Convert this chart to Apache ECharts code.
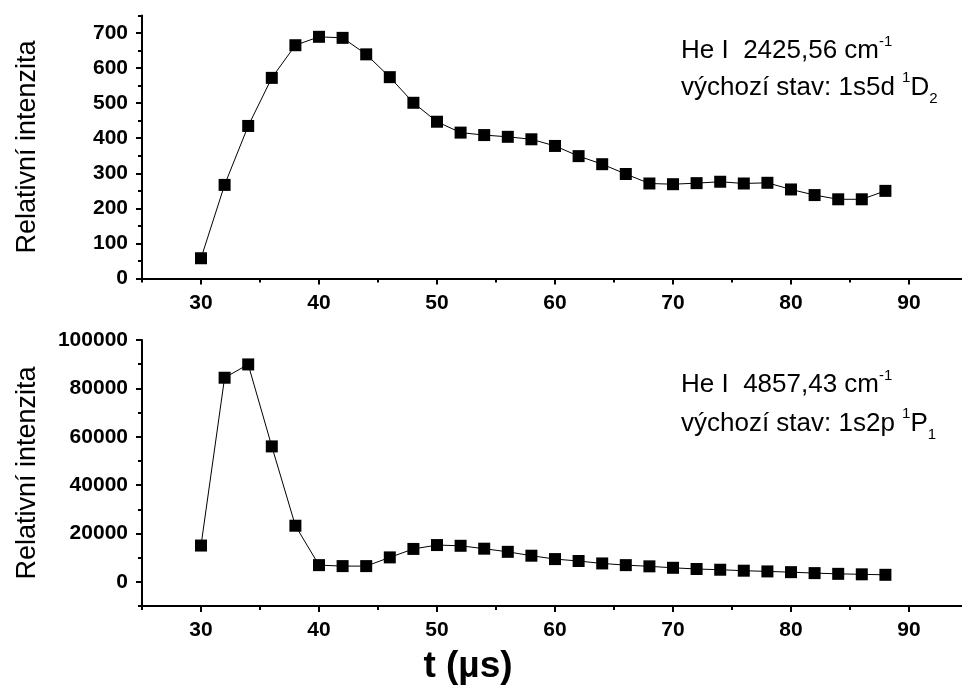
<!DOCTYPE html>
<html>
<head>
<meta charset="utf-8">
<script src="https://cdn.jsdelivr.net/npm/echarts@6/dist/echarts.min.js"></script>
<style>html,body{margin:0;padding:0;background:#fff}#c{width:962px;height:689px}</style>
</head>
<body>
<div id="c"></div>
<script>
const times = [30,32,34,36,38,40,42,44,46,48,50,52,54,56,58,60,62,64,66,68,70,72,74,76,78,80,82,84,86,88];
const intensity1D2 = [58,267,435,572,665,689,686,639,574,501,447,416,409,404,397,378,349,326,298,271,269,272,276,271,273,254,238,226,226,250];
const intensity1P1 = [15000,84400,89900,56000,23200,6900,6500,6500,10100,13600,15200,14900,13700,12400,10800,9400,8600,7600,6900,6400,5800,5300,5000,4600,4300,4000,3600,3300,3100,2900];
const xMajorTicks = [30,40,50,60,70,80,90];
const xMinorTicks = [25,35,45,55,65,75,85,95];
const yTopMajor = [0,100,200,300,400,500,600,700];
const yTopMinor = [50,150,250,350,450,550,650,750];
const yBotMajor = [0,20000,40000,60000,80000,100000];
const yBotMinor = [-10000,10000,30000,50000,70000,90000];
const yTitle = 'Relativní intenzita';
const xTitle = 't (\u00B5s)';

const FONT = 'Liberation Sans, Arial, sans-serif';
const black = '#000';

function majorAxis(gridIndex, min, max, ticks, extra) {
  return Object.assign({
    type: 'value', gridIndex, min, max,
    axisLine: {show: true, onZero: false, lineStyle: {color: black, width: 2}},
    axisTick: {show: true, customValues: ticks, length: 6, inside: false, lineStyle: {color: black, width: 2}},
    axisLabel: {show: true, customValues: ticks, color: black, fontFamily: FONT, fontSize: 21, fontWeight: 'bold', margin: 14,
                formatter: v => String(v)},
    splitLine: {show: false}
  }, extra || {});
}
function minorAxis(gridIndex, min, max, ticks, extra) {
  return Object.assign({
    type: 'value', gridIndex, min, max,
    axisLine: {show: false, onZero: false},
    axisTick: {show: true, customValues: ticks, length: 4, lineStyle: {color: black, width: 2}},
    axisLabel: {show: false},
    splitLine: {show: false}
  }, extra || {});
}

const chart = echarts.init(document.getElementById('c'), null, {renderer: 'canvas'});
const ynameStyle = {color: black, fontFamily: FONT, fontSize: 27};
chart.setOption({
  backgroundColor: '#fff',
  animation: false,
  grid: [
    {left: 142, top: 15.4, width: 826, height: 263.2, containLabel: false, outerBoundsMode: 'none'},
    {left: 142, top: 340, width: 826, height: 266, containLabel: false, outerBoundsMode: 'none'}
  ],
  xAxis: [
    majorAxis(0, 25, 95, xMajorTicks, {position: 'bottom'}),
    minorAxis(0, 25, 95, xMinorTicks, {position: 'bottom'}),
    majorAxis(1, 25, 95, xMajorTicks, {position: 'bottom'}),
    minorAxis(1, 25, 95, xMinorTicks, {position: 'bottom'})
  ],
  yAxis: [
    majorAxis(0, 0, 750, yTopMajor, {position: 'left', name: yTitle, nameLocation: 'middle', nameGap: 101, nameTextStyle: ynameStyle}),
    minorAxis(0, 0, 750, yTopMinor, {position: 'left', offset: 0}),
    majorAxis(1, -10000, 100000, yBotMajor, {position: 'left', name: yTitle, nameLocation: 'middle', nameGap: 101, nameTextStyle: ynameStyle}),
    minorAxis(1, -10000, 100000, yBotMinor, {position: 'left', offset: 0})
  ],
  series: [
    {type: 'line', xAxisIndex: 0, yAxisIndex: 0, data: times.map((t, i) => [t, intensity1D2[i]]),
     symbol: 'rect', symbolSize: 12, itemStyle: {color: black}, lineStyle: {color: black, width: 1}},
    {type: 'line', xAxisIndex: 2, yAxisIndex: 2, data: times.map((t, i) => [t, intensity1P1[i]]),
     symbol: 'rect', symbolSize: 12, itemStyle: {color: black}, lineStyle: {color: black, width: 1}}
  ],
  graphic: [
    {type: 'text', left: 681, top: 34, style: {
      text: '{m|He I  2425,56 cm}{sup|-1}', fill: black,
      rich: {m: {fontFamily: FONT, fontSize: 26, lineHeight: 30, verticalAlign: 'bottom'},
             sup: {fontFamily: FONT, fontSize: 15, lineHeight: 30, verticalAlign: 'top'}}}},
    {type: 'text', left: 681, top: 70, style: {
      text: '{m|výchozí stav: 1s5d }{sup|1}{m|D}{sub|2}', fill: black,
      rich: {m: {fontFamily: FONT, fontSize: 26, lineHeight: 34, verticalAlign: 'middle'},
             sup: {fontFamily: FONT, fontSize: 15, lineHeight: 34, verticalAlign: 'top'},
             sub: {fontFamily: FONT, fontSize: 15, lineHeight: 36, verticalAlign: 'bottom'}}}},
    {type: 'text', left: 681, top: 368, style: {
      text: '{m|He I  4857,43 cm}{sup|-1}', fill: black,
      rich: {m: {fontFamily: FONT, fontSize: 26, lineHeight: 30, verticalAlign: 'bottom'},
             sup: {fontFamily: FONT, fontSize: 15, lineHeight: 30, verticalAlign: 'top'}}}},
    {type: 'text', left: 681, top: 406, style: {
      text: '{m|výchozí stav: 1s2p }{sup|1}{m|P}{sub|1}', fill: black,
      rich: {m: {fontFamily: FONT, fontSize: 26, lineHeight: 34, verticalAlign: 'middle'},
             sup: {fontFamily: FONT, fontSize: 15, lineHeight: 34, verticalAlign: 'top'},
             sub: {fontFamily: FONT, fontSize: 15, lineHeight: 36, verticalAlign: 'bottom'}}}},
    {type: 'text', x: 468, y: 667, style: {text: xTitle, fill: black, fontFamily: FONT, fontSize: 37, fontWeight: 'bold',
      align: 'center', verticalAlign: 'middle'}}
  ]
});
</script>
</body>
</html>
